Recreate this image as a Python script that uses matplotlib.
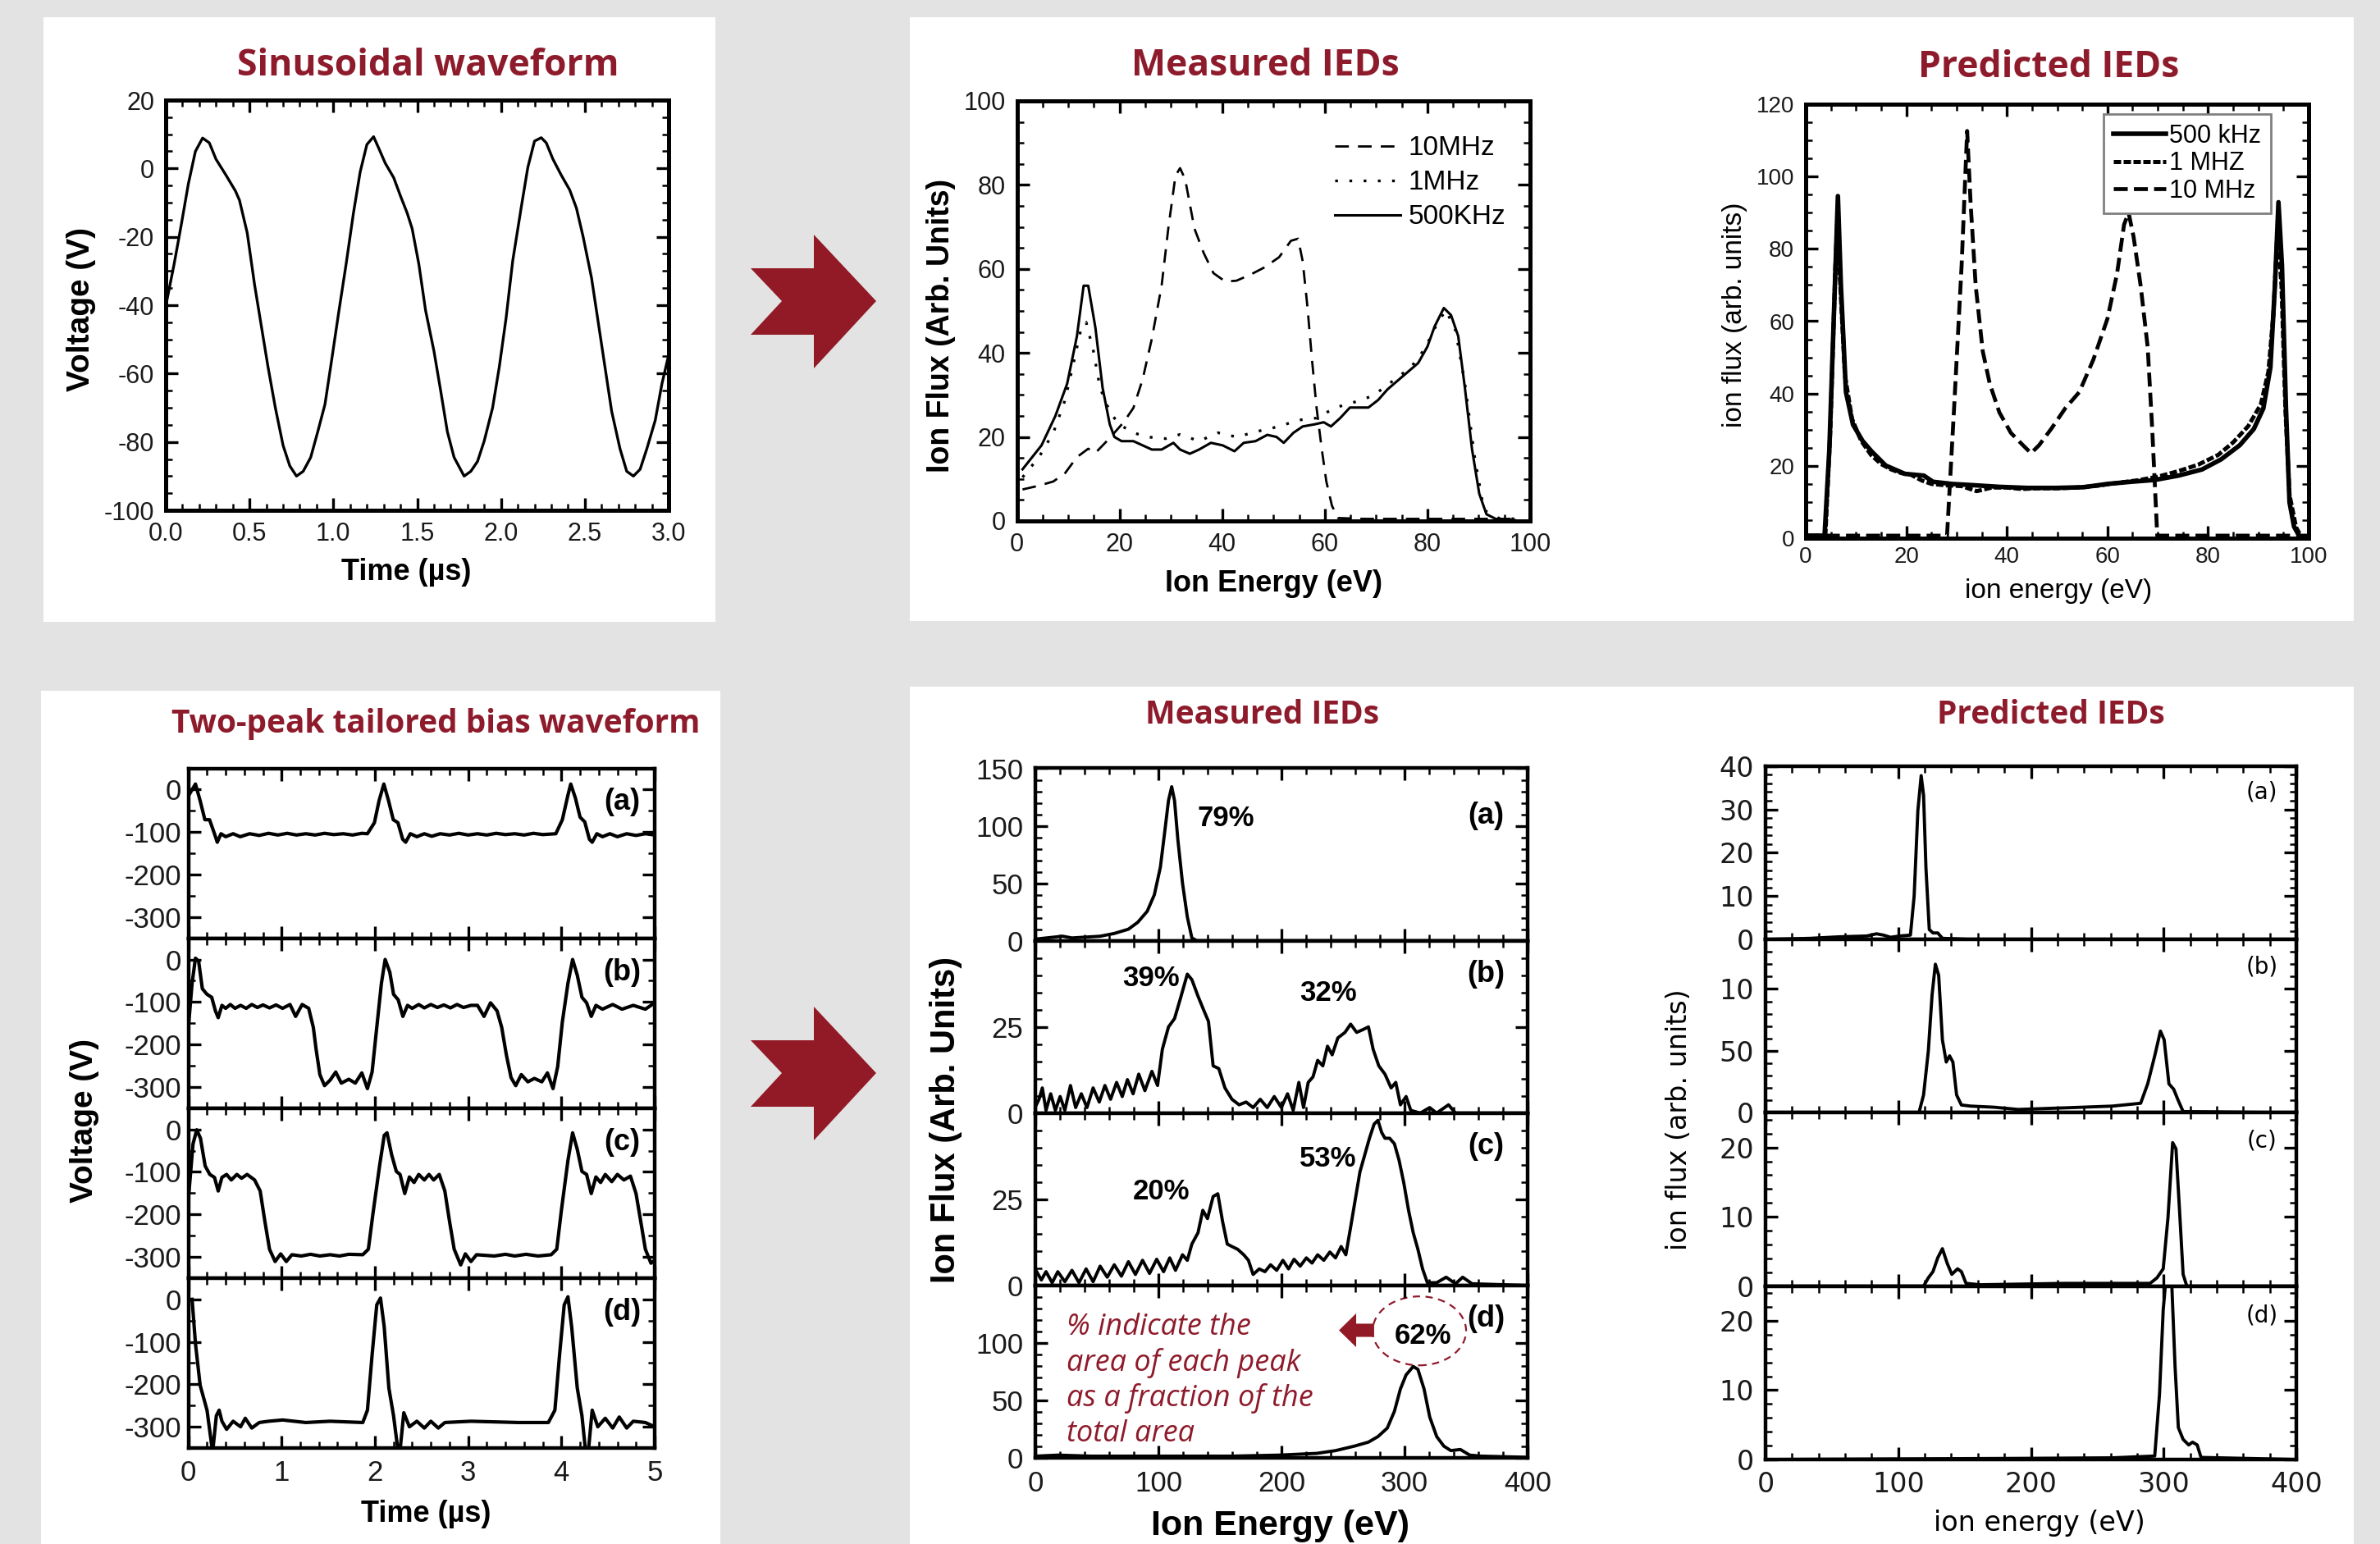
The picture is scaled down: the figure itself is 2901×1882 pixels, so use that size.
import numpy as np
import matplotlib.pyplot as plt
from matplotlib.patches import Rectangle, Polygon, Ellipse, FancyArrow
from matplotlib.ticker import MultipleLocator

# ---------------- values ----------------
# sinusoidal bias waveform: (time us, voltage V)
sine_wave = [(0, -40.3), (0.05, -28), (0.093, -16.4), (0.135, -4.5), (0.177, 5), (0.22, 8.9),
             (0.26, 7.5), (0.30, 2.7), (0.36, -2), (0.416, -6.6), (0.44, -9.3), (0.486, -18.8),
             (0.53, -34), (0.57, -46), (0.61, -58), (0.654, -70), (0.70, -81), (0.74, -87),
             (0.78, -90), (0.82, -88.6), (0.865, -84.5), (0.907, -77), (0.95, -69), (0.99, -56),
             (1.03, -42.7), (1.076, -28), (1.12, -13), (1.16, -1), (1.20, 7), (1.24, 9.3),
             (1.27, 6), (1.31, 1.5), (1.36, -2.7), (1.40, -8), (1.44, -13), (1.47, -17.6),
             (1.51, -28), (1.55, -41.5), (1.60, -53.4), (1.64, -65), (1.68, -77), (1.72, -84.5),
             (1.78, -90), (1.82, -88.6), (1.86, -85.7), (1.90, -79.7), (1.95, -70), (1.99, -58),
             (2.03, -43.9), (2.07, -27), (2.12, -11.6), (2.16, 0.3), (2.20, 8), (2.24, 9),
             (2.27, 7.5), (2.31, 2.7), (2.36, -2), (2.41, -6.3), (2.45, -11.6), (2.49, -20),
             (2.54, -32), (2.58, -45), (2.62, -58), (2.66, -71), (2.71, -82), (2.75, -88.6),
             (2.79, -90), (2.83, -88), (2.87, -82), (2.92, -73.7), (2.96, -63), (3.0, -54.6)]

# measured IEDs for the sinusoid: (ion energy eV, flux)
meas_500k = [(1.1, 12.3), (4.8, 18), (7.5, 25), (9.8, 32.7), (11.7, 44), (13, 56), (13.9, 56),
             (15.3, 46), (16.7, 31.7), (18.1, 23), (19, 20), (20.4, 19), (22.7, 19), (24.5, 18),
             (26.3, 17), (28.2, 17), (30.5, 18.6), (31.8, 17), (33.7, 16), (35.5, 17), (37.8, 18.6),
             (40.1, 18), (42.4, 16.6), (44.2, 18.6), (46.5, 19), (48.8, 20.5), (50.6, 20), (52, 18.6),
             (53.9, 21), (55.7, 22.5), (58, 23), (59.8, 23.5), (61.2, 22.5), (63, 24.5), (64.9, 27),
             (66.7, 27), (68.5, 27), (70.4, 28.8), (72.2, 31.3), (74, 33.2), (76.3, 35.6),
             (78.2, 37.6), (80, 41.5), (81.4, 46.3), (83.2, 50.7), (84.6, 49), (86, 44), (87.3, 31.7),
             (88.7, 17), (90.1, 6.5), (91.5, 1.6), (93.3, 0.5), (97, 0.2)]
meas_1m = [(1.1, 10.4), (4.3, 15.2), (7.1, 21), (9.4, 28.8), (11.2, 38.5), (12.6, 46.3), (13.5, 47.3),
           (14.9, 40.5), (16.2, 31.7), (18.1, 26), (19.9, 23), (22.7, 21), (25.4, 20), (29, 19.6),
           (31.8, 20.6), (35.5, 19), (39.2, 21), (42.8, 20), (47.5, 21.5), (51.1, 22.5), (54.8, 24),
           (58.4, 24.5), (62.1, 27), (65.8, 28.3), (69.4, 29.8), (73.1, 33.2), (76.8, 36.6), (79.5, 41),
           (81.8, 46.8), (83.6, 50.2), (85.5, 45.3), (87.3, 32.7), (89.2, 15.2), (91, 2.6), (93.8, 0.7),
           (97, 0.5)]
meas_10m = [(1.1, 7.5), (4.3, 8.4), (7.1, 9.4), (9.4, 11.4), (11.7, 15.2), (13.9, 17.2), (15.3, 16.2),
            (17.2, 18.6), (19, 21), (20.8, 23.5), (22.7, 26.9), (24.5, 33.7), (26.3, 43.4), (28.2, 56),
            (29.5, 69.6), (30.9, 82.2), (31.8, 84), (32.8, 81.3), (34.6, 69.6), (36.4, 63.8), (38.3, 59),
            (40.6, 57), (42.8, 57.2), (45.6, 58.7), (48.3, 60.4), (51.1, 62.8), (53.4, 66.7), (54.8, 67.2),
            (55.7, 61.8), (56.6, 51.2), (57.5, 38.5), (58.4, 26.9), (59.4, 17.2), (60.3, 9.4), (61.4, 3.6),
            (62.6, 0.7), (67.6, 0.5), (78.6, 0.5), (97, 0.5)]

# predicted IEDs for the sinusoid
pred_500k = [(0, 0.7), (3.75, 0.7), (4.7, 24.6), (5.8, 69.8), (6.4, 94.6), (7.0, 69.8), (8.0, 40.4),
             (9.4, 31.4), (11.3, 26.9), (13.1, 24), (15.9, 20.1), (19.7, 17.8), (23.5, 17.3), (25.3, 15.6),
             (29.1, 15), (32.8, 14.7), (38.5, 14.2), (44.1, 13.9), (49.7, 13.9), (55.3, 14.1), (60, 15),
             (64.7, 15.6), (69.4, 16.1), (74.1, 17.3), (78.8, 19), (82.6, 21.8), (86.3, 25.7), (89.1, 30.2),
             (91, 35.9), (92.4, 47.2), (93.3, 69.8), (94, 92.9), (94.7, 75.4), (95.5, 35.9), (96.2, 9.9),
             (97.1, 3.2), (98.1, 0.7)]
pred_1m = [(0, 0.5), (3.9, 0.5), (4.9, 30), (5.9, 75), (6.3, 88), (6.8, 72), (7.8, 45), (9.2, 33),
           (11, 27), (13, 23), (15, 20.5), (17, 19), (19, 18), (21, 17.5), (23, 16), (25, 15), (28, 14.6),
           (31, 14.4), (34, 13), (37, 14), (40, 14), (43, 13.6), (46, 13.8), (50, 13.8), (54, 14),
           (58, 14.5), (62, 15.3), (66, 16), (70, 17), (74, 18.5), (78, 20.3), (82, 23), (85, 26.5),
           (88, 31), (90.5, 37), (92, 46), (93, 62), (93.8, 85), (94.6, 70), (95.4, 35), (96.2, 12),
           (97.5, 3), (98.5, 0.5), (100, 0.5)]
pred_10m = [(0, 0.7), (28.1, 0.7), (29.5, 35.9), (31, 75.4), (32.1, 112.6), (32.8, 92.3), (33.8, 69.8),
            (35.2, 51.7), (36.6, 42.7), (38.5, 34.8), (40.8, 29.1), (43.2, 25.7), (44.8, 23.5),
            (46.4, 25.7), (48.8, 30.2), (51.6, 35.9), (54.4, 40.4), (57.2, 49.4), (60, 60.7), (61.9, 73.1),
            (63.3, 86.7), (64.2, 90), (65.2, 83.3), (66.6, 69.8), (68, 52.8), (68.9, 30.2), (69.9, 0.7),
            (100, 0.7)]

# two-peak tailored bias waveforms (a)-(d): (time us, voltage V)
wave_a = [(0, -15), (0.076, 13), (0.126, -26), (0.177, -71), (0.227, -71), (0.28, -104), (0.31, -124),
          (0.35, -104), (0.40, -111), (0.48, -104), (0.556, -111), (0.657, -104), (0.76, -108),
          (0.86, -103), (0.96, -107), (1.06, -103), (1.16, -107), (1.26, -104), (1.36, -107),
          (1.46, -103), (1.56, -106), (1.66, -104), (1.76, -107), (1.86, -103), (1.92, -104),
          (1.995, -78), (2.045, -26), (2.096, 13), (2.146, -26), (2.197, -71), (2.247, -78),
          (2.298, -117), (2.33, -124), (2.38, -104), (2.45, -111), (2.53, -104), (2.61, -110),
          (2.7, -104), (2.8, -107), (2.9, -103), (3.0, -107), (3.1, -104), (3.2, -107), (3.3, -103),
          (3.4, -106), (3.5, -104), (3.6, -107), (3.7, -103), (3.8, -106), (3.94, -104), (4.01, -71),
          (4.07, -13), (4.10, 13), (4.15, -20), (4.2, -65), (4.25, -76), (4.30, -117), (4.33, -124),
          (4.38, -104), (4.44, -111), (4.52, -104), (4.6, -111), (4.7, -104), (4.8, -108), (4.9, -104),
          (5.0, -107)]
wave_b = [(0, -160), (0.04, -56), (0.076, 3), (0.11, -4), (0.15, -69), (0.2, -82), (0.25, -89),
          (0.29, -121), (0.32, -137), (0.36, -108), (0.40, -115), (0.45, -106), (0.5, -115),
          (0.56, -108), (0.62, -115), (0.68, -106), (0.74, -113), (0.8, -107), (0.87, -114),
          (0.94, -107), (1.01, -115), (1.09, -106), (1.15, -134), (1.22, -106), (1.29, -115),
          (1.34, -160), (1.37, -212), (1.41, -271), (1.46, -297), (1.52, -284), (1.58, -265),
          (1.64, -291), (1.72, -282), (1.79, -291), (1.86, -267), (1.92, -304), (1.97, -265),
          (2.02, -160), (2.07, -56), (2.11, 0), (2.16, -30), (2.2, -82), (2.25, -95), (2.30, -134),
          (2.35, -108), (2.40, -115), (2.47, -106), (2.53, -114), (2.6, -106), (2.67, -113),
          (2.74, -107), (2.81, -114), (2.88, -106), (2.95, -113), (3.03, -108), (3.1, -108),
          (3.17, -134), (3.24, -102), (3.31, -121), (3.36, -160), (3.41, -225), (3.46, -278),
          (3.51, -297), (3.57, -271), (3.64, -288), (3.71, -280), (3.79, -288), (3.85, -267),
          (3.91, -304), (3.96, -252), (4.01, -147), (4.07, -56), (4.12, 0), (4.17, -37), (4.22, -89),
          (4.27, -102), (4.32, -134), (4.37, -108), (4.44, -117), (4.55, -106), (4.65, -117),
          (4.77, -108), (4.9, -117), (5.0, -102)]
wave_c = [(0, -164), (0.05, -34), (0.09, -1), (0.13, -21), (0.18, -86), (0.23, -106), (0.28, -113),
          (0.32, -145), (0.36, -113), (0.41, -106), (0.46, -119), (0.52, -106), (0.57, -115),
          (0.63, -106), (0.71, -119), (0.77, -145), (0.82, -216), (0.87, -282), (0.93, -311),
          (0.99, -293), (1.05, -311), (1.11, -295), (1.21, -298), (1.31, -294), (1.41, -298),
          (1.52, -295), (1.62, -298), (1.72, -294), (1.87, -295), (1.93, -282), (1.98, -197),
          (2.05, -86), (2.10, -14), (2.13, -8), (2.18, -60), (2.23, -99), (2.27, -106), (2.32, -151),
          (2.37, -112), (2.42, -125), (2.47, -106), (2.53, -119), (2.58, -106), (2.63, -119),
          (2.69, -106), (2.75, -145), (2.80, -216), (2.85, -282), (2.92, -319), (2.97, -293),
          (3.03, -311), (3.09, -295), (3.28, -298), (3.4, -294), (3.5, -298), (3.62, -294),
          (3.75, -298), (3.89, -295), (3.95, -282), (4.0, -190), (4.07, -73), (4.12, -8), (4.17, -47),
          (4.22, -99), (4.27, -106), (4.32, -151), (4.37, -112), (4.42, -125), (4.47, -106),
          (4.54, -123), (4.6, -106), (4.67, -119), (4.74, -110), (4.80, -151), (4.85, -216),
          (4.90, -282), (4.96, -315), (5.0, -308)]
wave_d = [(0.04, 0), (0.076, -104), (0.126, -202), (0.2, -261), (0.26, -360), (0.30, -274), (0.33, -261),
          (0.36, -287), (0.41, -306), (0.48, -287), (0.56, -300), (0.61, -280), (0.68, -303),
          (0.76, -290), (0.86, -287), (1.01, -284), (1.26, -290), (1.52, -287), (1.87, -290),
          (1.92, -261), (1.97, -131), (2.02, -13), (2.06, 3), (2.10, -65), (2.15, -209), (2.2, -274),
          (2.25, -360), (2.27, -355), (2.31, -267), (2.37, -300), (2.45, -287), (2.53, -303), (2.6, -287),
          (2.68, -303), (2.75, -290), (3.03, -287), (3.54, -290), (3.86, -290), (3.93, -261),
          (3.98, -131), (4.03, -13), (4.07, 6), (4.11, -65), (4.17, -209), (4.22, -274), (4.26, -360),
          (4.29, -355), (4.33, -261), (4.39, -300), (4.47, -280), (4.55, -303), (4.62, -277),
          (4.70, -303), (4.77, -287), (4.90, -290), (5.0, -300)]

# measured IEDs for the tailored waveforms (a)-(d)
meas_a = [(0, 1.4), (21.8, 3.9), (29.5, 2.4), (52.4, 3.9), (63.9, 6.3), (75.4, 10), (83, 16), (90.7, 25.6),
          (96.5, 40), (101.4, 64), (105.3, 98), (108, 122), (110.6, 134), (112.9, 122), (115.6, 88),
          (119.4, 50), (123.3, 20.7), (127, 2.4), (131, 0), (160, 0), (400, 0)]
meas_b = [(0, 2), (2.7, 4), (5.4, 7.3), (8.4, 0.8), (12.2, 5.6), (16, 0.8), (19.9, 4.8), (23.7, 0.8),
          (28.3, 8), (32.5, 1.6), (37.1, 5.6), (41.7, 1.6), (46.7, 7.3), (51.7, 3.2), (56.3, 8), (60.9, 4),
          (65.8, 8.9), (70.4, 4.8), (74.6, 9.7), (79.2, 5.6), (83.8, 11.3), (88.8, 6.5), (94.5, 12.1),
          (99.1, 8), (103, 18.5), (108, 25), (112.9, 27.4), (117.5, 33), (123.3, 40.3), (127, 38.7),
          (132, 33.9), (136.7, 29.8), (140.5, 26.6), (144.3, 13.7), (148.9, 12.9), (153.9, 7.3),
          (159.6, 4), (165.4, 2.4), (171.1, 3.2), (176.8, 1.6), (182.6, 4), (188.3, 1.6), (194, 4.8),
          (199.8, 1.6), (204.8, 5.6), (209.4, 0.8), (214, 8.9), (217.8, 1.6), (221.6, 8.9), (225.5, 10.5),
          (229.3, 15.3), (233.5, 13.7), (237.3, 19.4), (241.1, 16.9), (245.7, 21.8), (251.5, 23.4),
          (256.1, 25.8), (261, 23.4), (266, 24.2), (270.6, 25), (274.4, 18.5), (279, 13.7), (284, 11.3),
          (289, 7.3), (292.8, 8.9), (296.6, 2.4), (301.2, 4.8), (305, 0.8), (312.7, 0), (320.4, 1.6),
          (326, 0), (335.7, 2.4), (341.4, 0), (400, 0)]
meas_c = [(0.8, 4), (4.6, 1.6), (8.4, 4), (13.4, 0.8), (18, 4), (23.7, 1.1), (29.5, 4.4), (35.2, 0.8),
          (41, 4.8), (46.7, 1.1), (52.4, 5.6), (58.2, 2.4), (63.9, 6), (69.7, 2.7), (75.4, 6.9), (81.1, 3.2),
          (86.9, 7.3), (92.6, 3.5), (98.4, 7.6), (104, 4), (109, 8), (113.7, 4.4), (119.4, 8.9),
          (123.3, 7.3), (127, 12), (132, 15.3), (135.9, 21.8), (139.7, 19.4), (144.3, 25.8), (148.1, 26.6),
          (152, 18.5), (155.8, 12), (159.6, 11.3), (164.2, 10.5), (169.2, 8.9), (173, 7.3), (176.8, 3.2),
          (181.8, 4.8), (186.4, 4), (191, 6), (196, 4.4), (201, 7.3), (205.6, 4.8), (210.1, 7.6),
          (215.1, 5.6), (220.1, 8), (224.7, 6.5), (229.3, 8.9), (234.3, 7.3), (239.2, 9.7), (243.8, 8),
          (248.4, 11.3), (252.2, 8.9), (256.1, 16.9), (259.9, 25), (263.7, 33), (267.6, 37.9),
          (271.4, 42.7), (275.2, 46.8), (278.3, 47.9), (281.3, 44.4), (284, 42.7), (287.8, 42.7),
          (291.7, 41.1), (295.5, 36.3), (299.3, 29.8), (303.2, 21.8), (307, 15.3), (310.8, 10.5),
          (314.6, 4.8), (318.5, 0.8), (326, 0.8), (333.8, 2.4), (341.4, 0.5), (347.2, 2.4), (354.8, 0.5),
          (400, 0)]
meas_d = [(0, 1.5), (18, 2.4), (44.8, 1.5), (83, 1.5), (121.3, 1.5), (159.6, 1.5), (197.9, 2.4),
          (228.5, 3.9), (243.8, 6.3), (259.1, 10.2), (270.6, 13.7), (278.3, 18.5), (285.9, 25.9),
          (291.7, 40.5), (296.6, 60), (301.2, 72.2), (307, 79.5), (310.8, 77), (315.8, 60), (320.4, 35.6),
          (326.1, 18.5), (331.9, 10.2), (337.6, 6.3), (345.3, 7.3), (352.9, 2.4), (362.5, 1.5), (400, 0.5)]

# predicted IEDs for the tailored waveforms (a)-(d)
pred_a = [(0, 0), (33.8, 0.26), (55, 0.6), (76.4, 0.8), (83.6, 1.3), (88.9, 1.0), (94.2, 0.5),
          (101.3, 0.8), (109.2, 1.0), (112, 10), (114.8, 29.7), (117.3, 37.8), (119.1, 33.3),
          (120.9, 16.5), (123.4, 2.3), (126.2, 1.5), (129.8, 1.5), (133.3, 0.26), (154.7, 0), (400, 0)]
pred_b = [(0, 0), (115.6, 0), (119.1, 14.4), (122.7, 50), (125.5, 95), (128, 120), (130.5, 111),
          (133.3, 59), (136.2, 41), (138.7, 46), (141.2, 41), (144, 14.4), (147.6, 6.3), (154.7, 5.4),
          (172.4, 4.5), (190.2, 2.7), (225.8, 4), (261.3, 5.4), (282.7, 7.7), (288, 23.4), (293.3, 46),
          (297.6, 66), (300.4, 59), (304, 23.4), (307.6, 19), (311, 10), (314.7, 1), (400, 0)]
pred_c = [(0, 0), (119.1, 0), (122.7, 1.2), (126.2, 2.1), (129.8, 4.1), (133.3, 5.4), (136.9, 3.3),
          (140.4, 1.7), (144.7, 2.5), (147.6, 2.1), (151.1, 0.4), (161.8, 0.2), (225.8, 0.4), (289.8, 0.4),
          (295, 1.2), (299.7, 2.5), (303.3, 9.9), (306.8, 20.7), (309.3, 19.8), (311.8, 11.6), (314.7, 1.7),
          (317.5, 0), (400, 0)]
pred_d = [(0, 0), (190, 0.16), (261.3, 0.24), (293.3, 0.5), (296.9, 9.4), (299.7, 21.6), (302.2, 27),
          (305.8, 27), (308.6, 13.5), (311.1, 4.6), (314.7, 2.9), (318.9, 2.1), (321.8, 2.5), (325.3, 2.1),
          (328.2, 0.3), (400, 0)]

# peak-area annotations on the measured stack: (panel, eV, flux, text)
peak_labels = [(0, 155, 106.6, '79%'), (1, 93.8, 39.2, '39%'), (1, 238, 34.7, '32%'),
               (2, 102, 27.1, '20%'), (2, 238, 36.8, '53%'), (3, 314.7, 106, '62%')]
panel_tags = ['(a)', '(b)', '(c)', '(d)']

# ---------------- figure ----------------
W, H = 2901, 1882
RED = '#8e1b2b'
ARROW_RED = '#921a26'
plt.rcParams['font.family'] = ['Liberation Sans', 'DejaVu Sans']
plt.rcParams['axes.unicode_minus'] = False

fig = plt.figure(figsize=(W / 100, H / 100), dpi=100)
fig.patch.set_facecolor('#e3e3e3')


def box(x0, y0, x1, y1):
    # pixel box (top-left origin) -> figure fraction rect
    return [x0 / W, 1 - y1 / H, (x1 - x0) / W, (y1 - y0) / H]


def ftext(x, y, s, **kw):
    fig.text(x / W, 1 - y / H, s, **kw)


def style(ax, xmaj, xmin, ymin, size, padx, pady, spine=3.2, family='Liberation Sans'):
    ax.xaxis.set_major_locator(MultipleLocator(xmaj))
    ax.xaxis.set_minor_locator(MultipleLocator(xmin))
    ax.yaxis.set_minor_locator(MultipleLocator(ymin))
    ax.tick_params(which='both', direction='in', top=True, right=True, labelsize=size,
                   labelfontfamily=family, labelcolor='#1a1a1a')
    ax.tick_params(which='major', length=11, width=2.4)
    ax.tick_params(which='minor', length=5.5, width=1.8)
    ax.tick_params(axis='x', pad=padx)
    ax.tick_params(axis='y', pad=pady)
    for s in ax.spines.values():
        s.set_linewidth(spine)


def xy(points):
    return np.array(points, dtype=float).T


# white panels
for x0, y0, x1, y1 in [(53, 21, 872, 758), (1109, 21, 2869, 757),
                       (50, 842, 878, 1882), (1109, 837, 2869, 1882)]:
    fig.add_artist(Rectangle((x0 / W, 1 - y1 / H), (x1 - x0) / W, (y1 - y0) / H,
                             transform=fig.transFigure, facecolor='white',
                             edgecolor='none', zorder=-5))

# red chevron arrows between panels
arrow_shape = [(915, 327), (992, 327), (992, 286), (1068, 367), (992, 449),
               (992, 408), (915, 408), (953, 367)]
for dy in (0, 941):
    pts = [(x / W, 1 - (y + dy) / H) for x, y in arrow_shape]
    fig.add_artist(Polygon(pts, closed=True, transform=fig.transFigure,
                           facecolor=ARROW_RED, edgecolor='none', zorder=-4))

title_kw = dict(family='Open Sans', weight='bold', color=RED, ha='center', va='baseline')

# ---- top left: sinusoidal waveform ----
ax1 = fig.add_axes(box(202, 122, 815, 622))
t, v = xy(sine_wave)
ax1.plot(t, v, color='black', lw=2.4)
ax1.set_xlim(0, 3)
ax1.set_ylim(-100, 20)
ax1.yaxis.set_major_locator(MultipleLocator(20))
style(ax1, 0.5, 0.1, 5, 22, 10, 10, spine=3.6)
ax1.xaxis.set_major_formatter(lambda val, pos: f'{val:.1f}')
ftext(522, 92, 'Sinusoidal waveform', size=32, **title_kw)
ftext(99, 377, 'Voltage (V)', size=28, weight='bold', rotation=90, ha='center', va='center')
ftext(495, 707, 'Time (µs)', size=26, weight='bold', ha='center', va='baseline')

# ---- top middle: measured IEDs ----
ax2 = fig.add_axes(box(1239.5, 123, 1865, 635))
e, f = xy(meas_10m)
ax2.plot(e, f, color='black', lw=2, ls=(0, (6, 4)), label='10MHz')
e, f = xy(meas_1m)
ax2.plot(e, f, color='black', lw=2.4, ls=(0, (1, 4.2)), label='1MHz')
e, f = xy(meas_500k)
ax2.plot(e, f, color='black', lw=2.2, label='500KHz')
ax2.set_xlim(0, 100)
ax2.set_ylim(0, 100)
ax2.yaxis.set_major_locator(MultipleLocator(20))
style(ax2, 20, 5, 5, 22, 10, 10, spine=3.6)
ax2.legend(loc='upper left', bbox_to_anchor=(0.6195, 0.917), frameon=False, fontsize=24,
           handlelength=2.4, handletextpad=0.3, labelspacing=0.33, borderpad=0, borderaxespad=0)
ftext(1542, 92, 'Measured IEDs', size=32, **title_kw)
ftext(1147, 397, 'Ion Flux (Arb. Units)', size=27, weight='bold', rotation=90, ha='center', va='center')
ftext(1553, 721, 'Ion Energy (eV)', size=26, weight='bold', ha='center', va='baseline')

# ---- top right: predicted IEDs ----
ax3 = fig.add_axes(box(2201, 127, 2814, 656))
e, f = xy(pred_500k)
ax3.plot(e, f, color='black', lw=4, label='500 kHz')
e, f = xy(pred_1m)
ax3.plot(e, f, color='black', lw=3.6, ls=(0, (1.8, 0.6)), label='1 MHZ')
e, f = xy(pred_10m)
ax3.plot(e, f, color='black', lw=3.4, ls=(0, (3.6, 1.6)), label='10 MHz')
ax3.set_xlim(0, 100)
ax3.set_ylim(0, 120)
ax3.yaxis.set_major_locator(MultipleLocator(20))
style(ax3, 20, 5, 5, 20, 7, 10, spine=3.6)
leg = ax3.legend(loc='upper left', bbox_to_anchor=(0.592, 0.977), fontsize=22, fancybox=False,
                 framealpha=1, edgecolor='#808080', handlelength=2.1, handletextpad=0.15,
                 labelspacing=0.12, borderpad=0.38, borderaxespad=0)
leg.get_frame().set_linewidth(2)
ftext(2497, 94, 'Predicted IEDs', size=32, **title_kw)
ftext(2115, 384, 'ion flux (arb. units)', size=24, rotation=90, ha='center', va='center')
ftext(2509, 729, 'ion energy (eV)', size=24, ha='center', va='baseline')


def stack(x0, x1, top, bottom, n=4):
    h = (bottom - top) / n
    return [fig.add_axes(box(x0, top + i * h, x1, top + (i + 1) * h)) for i in range(n)]


# ---- bottom left: tailored waveforms ----
waves = [wave_a, wave_b, wave_c, wave_d]
stack4 = stack(229.6, 798, 936.5, 1765)
for i, ax in enumerate(stack4):
    t, v = xy(waves[i])
    ax.plot(t, v, color='black', lw=3)
    ax.set_xlim(0, 5)
    ax.set_ylim(-350, 50)
    ax.set_yticks([0, -100, -200, -300])
    style(ax, 1, 0.2, 50, 25, 10, 6, spine=3.2)
    if i < 3:
        ax.tick_params(labelbottom=False)
    ax.text(4.65, -30, panel_tags[i], size=26, weight='bold', ha='center', va='center')
ftext(531, 893, 'Two-peak tailored bias waveform', size=28, **title_kw)
ftext(103, 1366, 'Voltage (V)', size=28, weight='bold', rotation=90, ha='center', va='center')
ftext(519, 1855, 'Time (µs)', size=26, weight='bold', ha='center', va='baseline')

# ---- bottom middle: measured IEDs ----
meas = [meas_a, meas_b, meas_c, meas_d]
meas_ylim = [150, 50, 50, 150]
meas_ticks = [[0, 50, 100, 150], [0, 25], [0, 25], [0, 50, 100]]
meas_minor = [10, 5, 5, 10]
meas_tag_y = [108.5, 40.3, 40.3, 121]
stack5 = stack(1262.4, 1862, 936.5, 1777)
for i, ax in enumerate(stack5):
    e, f = xy(meas[i])
    ax.plot(e, f, color='black', lw=2.8)
    ax.set_xlim(0, 400)
    ax.set_ylim(0, meas_ylim[i])
    ax.set_yticks(meas_ticks[i])
    style(ax, 100, 20, meas_minor[i], 25, 11, 11, spine=3.2)
    if i < 3:
        ax.tick_params(labelbottom=False)
    ax.text(366, meas_tag_y[i], panel_tags[i], size=26, weight='bold', ha='center', va='center')
for panel, ex, fy, s in peak_labels:
    stack5[panel].text(ex, fy, s, size=25, weight='bold', ha='center', va='center')
axd = stack5[3]
axd.add_patch(Ellipse((312, 110.5), 76, 60, fill=False, edgecolor=RED, lw=1.6, ls=(0, (4, 3))))
axd.add_patch(FancyArrow(275.2, 111, -28.6, 0, width=11.5, head_width=29.4, head_length=14,
                         length_includes_head=True, color=ARROW_RED, lw=0))
# multi-line note: anchored on the baseline of its last line
axd.text(25, 14.4, '% indicate the\narea of each peak\nas a fraction of the\ntotal area',
         family='Open Sans', style='italic', size=26, color=RED, ha='left', va='baseline',
         linespacing=1.24)
ftext(1539, 882, 'Measured IEDs', size=28, **title_kw)
ftext(1153, 1365, 'Ion Flux (Arb. Units)', size=30, weight='bold', rotation=90, ha='center', va='center')
ftext(1560, 1871, 'Ion Energy (eV)', size=31, weight='bold', ha='center', va='baseline')

# ---- bottom right: predicted IEDs ----
pred = [pred_a, pred_b, pred_c, pred_d]
pred_ylim = [40, 140, 25, 25]
pred_ticks = [[0, 10, 20, 30, 40], [0, 50, 100], [0, 10, 20], [0, 10, 20]]
pred_ticklabels = [['0', '10', '20', '30', '40'], ['0', '50', '10'], ['0', '10', '20'], ['0', '10', '20']]
pred_minor = [2, 10, 2, 2]
pred_tag_y = [34, 118, 21, 20.8]
stack6 = stack(2152, 2799, 933.8, 1779)
for i, ax in enumerate(stack6):
    e, f = xy(pred[i])
    ax.plot(e, f, color='black', lw=2.8)
    ax.set_xlim(0, 400)
    ax.set_ylim(0, pred_ylim[i])
    ax.set_yticks(pred_ticks[i], pred_ticklabels[i])
    style(ax, 100, 20, pred_minor[i], 24, 10, 10, spine=3.2, family='DejaVu Sans')
    if i < 3:
        ax.tick_params(labelbottom=False)
    ax.text(374, pred_tag_y[i], panel_tags[i], size=20, family='DejaVu Sans',
            ha='center', va='center')
ftext(2500, 882, 'Predicted IEDs', size=28, **title_kw)
ftext(2047, 1365, 'ion flux (arb. units)', size=24, family='DejaVu Sans', rotation=90,
      ha='center', va='center')
ftext(2486, 1866, 'ion energy (eV)', size=24, family='DejaVu Sans', ha='center', va='baseline')

fig.savefig('out.png', dpi=100, facecolor=fig.get_facecolor())
